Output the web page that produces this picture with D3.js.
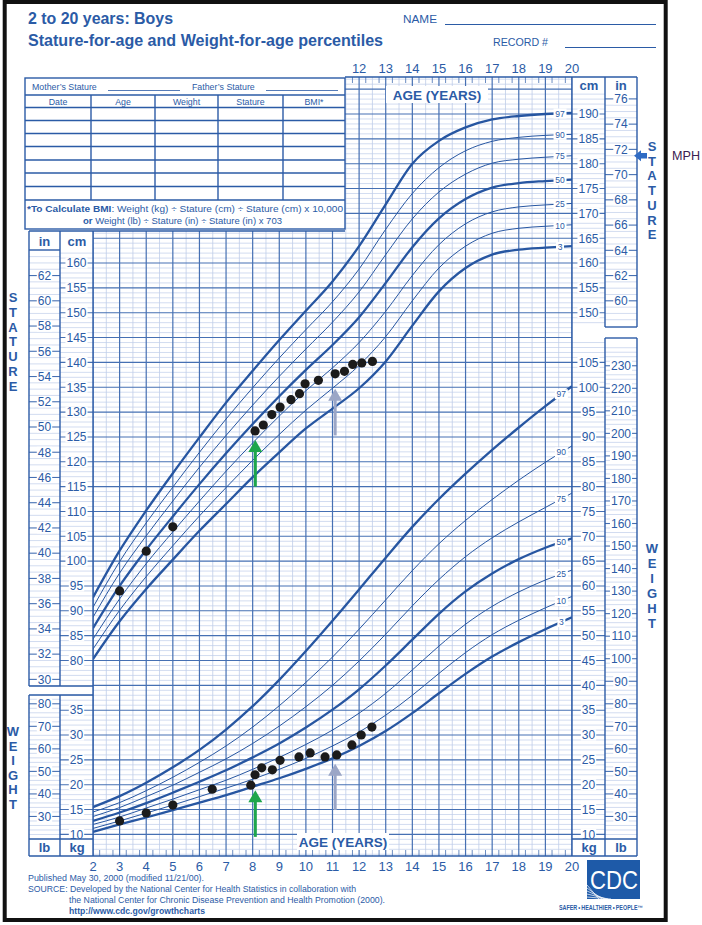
<!DOCTYPE html>
<html>
<head>
<meta charset="utf-8">
<script src="https://cdn.jsdelivr.net/npm/d3@7"></script>
<style>
  body { margin: 0; background: #fff; }
  svg { display: block; }
  text { font-family: "Liberation Sans", Arial, Helvetica, sans-serif; }
</style>
</head>
<body>
<div id="chart"></div>
<script>
// ---- data ----
const ages = [2, 3, 4, 5, 6, 7, 8, 9, 10, 11, 12, 13, 14, 15, 16, 17, 18, 19, 20];

// stature-for-age percentiles (cm)
const statureP3  = [80.3, 87.9, 94.4, 100.3, 106.1, 111.5, 116.9, 121.9, 126.7, 130.7, 134.8, 140.2, 147.4, 154.3, 159.0, 161.7, 162.7, 163.1, 163.4];
const statureP10 = [82.3, 90.1, 96.9, 103.1, 109.1, 114.8, 120.3, 125.5, 130.4, 134.8, 139.4, 145.2, 152.4, 159.0, 163.4, 166.0, 167.0, 167.4, 167.7];
const statureP25 = [84.3, 92.4, 99.5, 105.9, 112.1, 118.1, 123.8, 129.2, 134.3, 138.9, 144.0, 150.3, 157.5, 163.7, 167.9, 170.3, 171.3, 171.7, 172.0];
const statureP50 = [86.5, 95.0, 102.3, 109.0, 115.5, 121.7, 127.6, 133.2, 138.5, 143.5, 149.1, 156.0, 163.2, 169.0, 172.9, 175.2, 176.1, 176.5, 176.8];
const statureP75 = [88.7, 97.6, 105.1, 112.1, 118.9, 125.3, 131.4, 137.2, 142.7, 148.1, 154.2, 161.7, 168.9, 174.3, 177.9, 180.1, 180.9, 181.3, 181.6];
const statureP90 = [90.7, 99.9, 107.7, 114.9, 121.9, 128.6, 134.9, 140.9, 146.6, 152.2, 158.8, 166.8, 174.0, 179.2, 182.6, 184.5, 185.3, 185.7, 185.9];
const statureP97 = [92.7, 102.1, 110.2, 117.7, 124.9, 131.9, 138.3, 144.5, 150.4, 156.3, 163.4, 171.8, 180.0, 184.6, 187.3, 188.9, 189.6, 190.0, 190.2];

// weight-for-age percentiles (kg)
const weightP3  = [10.5, 12.0, 13.4, 14.9, 16.4, 17.9, 19.6, 21.3, 23.2, 25.3, 27.8, 30.8, 34.4, 38.4, 42.3, 45.8, 48.7, 51.3, 53.7];
const weightP10 = [11.2, 12.7, 14.3, 15.9, 17.6, 19.3, 21.1, 23.1, 25.3, 27.8, 30.6, 34.0, 38.0, 42.4, 46.6, 50.2, 53.1, 55.6, 57.9];
const weightP25 = [12.0, 13.5, 15.3, 17.1, 19.0, 20.9, 23.1, 25.5, 28.1, 31.0, 34.4, 38.4, 43.1, 47.9, 52.3, 55.9, 58.8, 61.2, 63.2];
const weightP50 = [12.7, 14.4, 16.3, 18.4, 20.6, 22.9, 25.5, 28.3, 31.5, 35.1, 39.2, 44.0, 49.2, 54.4, 58.9, 62.5, 65.4, 67.7, 69.6];
const weightP75 = [13.6, 15.4, 17.6, 19.9, 22.5, 25.2, 28.3, 31.8, 35.7, 40.0, 44.9, 50.3, 56.0, 61.3, 65.9, 69.7, 72.9, 75.8, 78.7];
const weightP90 = [14.5, 16.4, 18.8, 21.5, 24.5, 27.8, 31.6, 35.9, 40.6, 45.7, 51.3, 57.2, 63.1, 68.5, 73.2, 77.4, 81.3, 84.9, 88.2];
const weightP97 = [15.5, 17.7, 20.4, 23.5, 27.0, 31.1, 35.8, 41.1, 46.9, 53.0, 59.3, 65.7, 71.9, 77.5, 82.6, 87.4, 91.9, 96.2, 100.2];

const percentileNames = ["3", "10", "25", "50", "75", "90", "97"];

// plotted measurements
const statureVisitAge = [3.0, 4.0, 5.0, 8.09, 8.40, 8.72, 9.03, 9.44, 9.76, 9.97, 10.47, 11.10, 11.45, 11.76, 12.10, 12.50];
const statureVisitCm  = [94.0, 102.0, 106.9, 126.2, 127.4, 129.5, 131.0, 132.5, 133.7, 135.7, 136.4, 137.7, 138.2, 139.6, 139.9, 140.2];
const weightVisitAge  = [3.0, 4.0, 5.0, 6.48, 7.93, 8.09, 8.34, 8.74, 9.03, 9.74, 10.16, 10.72, 11.16, 11.73, 12.08, 12.48];
const weightVisitKg   = [12.7, 14.3, 15.9, 19.1, 19.9, 22.0, 23.4, 23.0, 24.9, 25.6, 26.4, 25.6, 26.0, 28.0, 30.0, 31.6];

// arrows: green at start, grey at later visit
const arrowAge           = [8.1, 11.1];
const arrowColor         = ["#1ea64c", "#9ba6c6"];
const arrowStatureTip    = [124.4, 134.7];
const arrowStatureTail   = [115.0, 125.3];
const arrowWeightTip     = [18.9, 24.2];
const arrowWeightTail    = [9.5, 14.9];
const midParentalInches  = 71.5;

// axis tick labels
const ageTicksBottom = [2, 3, 4, 5, 6, 7, 8, 9, 10, 11, 12, 13, 14, 15, 16, 17, 18, 19, 20];
const ageTicksTop    = [12, 13, 14, 15, 16, 17, 18, 19, 20];
const cmTicksLeft    = [80, 85, 90, 95, 100, 105, 110, 115, 120, 125, 130, 135, 140, 145, 150, 155, 160];
const inTicksLeft    = [30, 32, 34, 36, 38, 40, 42, 44, 46, 48, 50, 52, 54, 56, 58, 60, 62];
const cmTicksRight   = [150, 155, 160, 165, 170, 175, 180, 185, 190];
const inTicksRight   = [60, 62, 64, 66, 68, 70, 72, 74, 76];
const kgTicksLeft    = [10, 15, 20, 25, 30, 35];
const lbTicksLeft    = [30, 40, 50, 60, 70, 80];
const kgTicksRight   = [10, 15, 20, 25, 30, 35, 40, 45, 50, 55, 60, 65, 70, 75, 80, 85, 90, 95, 100, 105];
const lbTicksRight   = [30, 40, 50, 60, 70, 80, 90, 100, 110, 120, 130, 140, 150, 160, 170, 180, 190, 200, 210, 220, 230];
const tableColumns   = ["Date", "Age", "Weight", "Stature", "BMI*"];

// ---- drawing ----
const BLUE = "#2b5ba6", MAJOR = "#4670b3", MINOR = "#bfcde9", CURVE = "#2756a1";

const svg = d3.select("#chart").append("svg")
    .attr("width", 702)
    .attr("height", 925);

svg.append("rect").attr("width", 702).attr("height", 925).attr("fill", "#fff");

// scales: cm and kg grids share one spacing (kg line = cm line - 35)
const x   = d3.scaleLinear().domain([2, 20]).range([93, 572]);
const yCm = d3.scaleLinear().domain([80, 190]).range([660.5, 114]);
const yKg = d3.scaleLinear().domain([10, 120]).range([yCm(45), yCm(155)]);
const yIn = d3.scaleLinear().domain([30, 76]).range([yCm(30 * 2.54), yCm(76 * 2.54)]);
const yLb = d3.scaleLinear().domain([20, 240]).range([yKg(20 * 0.45359), yKg(240 * 0.45359)]);

// clip for the grid (table sits over the upper left)
const defs = svg.append("defs");
const clip = defs.append("clipPath").attr("id", "gridClip");
clip.append("rect").attr("x", 93).attr("y", 231).attr("width", 479).attr("height", 625);
clip.append("rect").attr("x", 345).attr("y", 77).attr("width", 227).attr("height", 160);

const grid = svg.append("g").attr("clip-path", "url(#gridClip)");

const levels = d3.range(40, 199);
const minorLv = levels.filter(v => v % 5 !== 0), majorLv = levels.filter(v => v % 5 === 0);
grid.selectAll(".hmin").data(minorLv).join("line")
    .attr("x1", 93).attr("x2", 572)
    .attr("y1", d => yCm(d)).attr("y2", d => yCm(d))
    .attr("stroke", MINOR).attr("stroke-width", 0.7);

const halfYears = d3.range(2.5, 20, 1);
grid.selectAll(".vmin").data(halfYears).join("line")
    .attr("x1", d => x(d)).attr("x2", d => x(d))
    .attr("y1", 77).attr("y2", 856)
    .attr("stroke", MINOR).attr("stroke-width", 0.8);

grid.selectAll(".hmaj").data(majorLv).join("line")
    .attr("x1", 93).attr("x2", 572)
    .attr("y1", d => yCm(d)).attr("y2", d => yCm(d))
    .attr("stroke", MAJOR).attr("stroke-width", 1.1);

grid.selectAll(".vmaj").data(ageTicksBottom).join("line")
    .attr("x1", d => x(d)).attr("x2", d => x(d))
    .attr("y1", 77).attr("y2", 856)
    .attr("stroke", MAJOR).attr("stroke-width", 1.2);

// quarter-year ticks along top and bottom edge
const quarters = d3.range(2.25, 20, 0.5);
grid.selectAll(".qt").data(quarters).join("line")
    .attr("x1", d => x(d)).attr("x2", d => x(d))
    .attr("y1", 77).attr("y2", 83)
    .attr("stroke", MAJOR).attr("stroke-width", 0.8);
grid.selectAll(".qb").data(quarters).join("line")
    .attr("x1", d => x(d)).attr("x2", d => x(d))
    .attr("y1", 850).attr("y2", 856)
    .attr("stroke", MAJOR).attr("stroke-width", 0.8);

// percentile curves
const line = d3.line().x(d => x(d[0])).y(d => d[1]).curve(d3.curveMonotoneX);
const statureSets = [statureP3, statureP10, statureP25, statureP50, statureP75, statureP90, statureP97];
const weightSets  = [weightP3, weightP10, weightP25, weightP50, weightP75, weightP90, weightP97];
const thick = p => p === "3" || p === "50" || p === "97";

const curves = svg.append("g").attr("clip-path", "url(#gridClip)");
statureSets.forEach((vals, i) => {
    curves.append("path")
        .attr("d", line(ages.map((a, j) => [a, yCm(vals[j])])))
        .attr("fill", "none").attr("stroke", CURVE)
        .attr("stroke-width", thick(percentileNames[i]) ? 2.3 : 1.0);
});
weightSets.forEach((vals, i) => {
    curves.append("path")
        .attr("d", line(ages.map((a, j) => [a, yKg(vals[j])])))
        .attr("fill", "none").attr("stroke", CURVE)
        .attr("stroke-width", thick(percentileNames[i]) ? 2.3 : 1.0);
});

// percentile labels near age 20
function pctLabel(px, py, txt) {
    const w = txt.length * 5 + 3;
    svg.append("rect").attr("x", px - w / 2).attr("y", py - 5).attr("width", w).attr("height", 10).attr("fill", "#fff");
    svg.append("text").attr("x", px).attr("y", py + 3).attr("text-anchor", "middle")
        .attr("font-size", 8.5).attr("fill", BLUE).text(txt);
}
statureSets.forEach((vals, i) => pctLabel(x(19.55), yCm((vals[17] + vals[18]) / 2), percentileNames[i]));
weightSets.forEach((vals, i) => pctLabel(x(19.6), yKg(vals[18] - (vals[18] - vals[17]) * 0.4), percentileNames[i]));

// ---- side columns ----
function columnLines(x1, x2, y1, y2, vals, scale, color, width) {
    svg.append("g").selectAll("line")
        .data(vals.filter(v => scale(v) >= y1 && scale(v) <= y2)).join("line")
        .attr("x1", x1).attr("x2", x2)
        .attr("y1", d => scale(d)).attr("y2", d => scale(d))
        .attr("stroke", color).attr("stroke-width", width);
}
function columnLabels(cx, vals, scale) {
    const g = svg.append("g");
    vals.forEach(v => {
        const w = String(v).length * 6.7 + 2;
        g.append("rect").attr("x", cx - w / 2).attr("y", scale(v) - 5.5).attr("width", w).attr("height", 11).attr("fill", "#fff");
        g.append("text").attr("x", cx).attr("y", scale(v) + 4.3).attr("text-anchor", "middle")
            .attr("font-size", 12).attr("fill", BLUE).text(v);
    });
}

// left stature box
columnLines(60, 93, 250, 686, minorLv, yCm, MINOR, 0.7);
columnLines(29, 60, 250, 686, d3.range(29, 64, 0.5).filter(v => v % 2 !== 0), yIn, MINOR, 0.7);
columnLines(60, 93, 250, 686, cmTicksLeft, yCm, MAJOR, 1.1);
columnLines(29, 60, 250, 686, inTicksLeft, yIn, MAJOR, 1.1);
columnLabels(76.5, cmTicksLeft, yCm);
columnLabels(44.5, inTicksLeft, yIn);

// left weight box
columnLines(60, 93, 695, 839, minorLv, yCm, MINOR, 0.7);
columnLines(29, 60, 695, 839, d3.range(22, 86, 2).filter(v => v % 10 !== 0), yLb, MINOR, 0.7);
columnLines(60, 93, 695, 839, kgTicksLeft, yKg, MAJOR, 1.1);
columnLines(29, 60, 695, 839, lbTicksLeft, yLb, MAJOR, 1.1);
columnLabels(76.5, kgTicksLeft, yKg);
columnLabels(44.5, lbTicksLeft, yLb);

// right stature box
columnLines(572, 605, 93, 327, minorLv, yCm, MINOR, 0.7);
columnLines(605, 637, 93, 327, d3.range(58, 77, 0.5).filter(v => v % 2 !== 0), yIn, MINOR, 0.7);
columnLines(572, 605, 93, 327, cmTicksRight, yCm, MAJOR, 1.1);
columnLines(605, 637, 93, 327, inTicksRight, yIn, MAJOR, 1.1);
columnLabels(588.5, cmTicksRight, yCm);
columnLabels(621, inTicksRight, yIn);

// right weight box
columnLines(572, 605, 338, 839, minorLv, yCm, MINOR, 0.7);
columnLines(605, 637, 338, 839, d3.range(22, 240, 2).filter(v => v % 10 !== 0), yLb, MINOR, 0.7);
columnLines(572, 605, 338, 839, kgTicksRight, yKg, MAJOR, 1.1);
columnLines(605, 637, 338, 839, lbTicksRight, yLb, MAJOR, 1.1);
columnLabels(588.5, kgTicksRight, yKg);
columnLabels(621, lbTicksRight, yLb);

// frames
const frame = svg.append("g").attr("stroke", BLUE).attr("stroke-width", 1.4).attr("fill", "none");
[
    [29, 231, 345, 231], [29, 231, 29, 686], [29, 686, 93, 686], [60, 231, 60, 686], [29, 250, 60, 250],
    [93, 231, 93, 856], [29, 695, 93, 695], [29, 695, 29, 856], [60, 695, 60, 856], [29, 839, 93, 839],
    [29, 856, 637, 856], [345, 77, 637, 77], [572, 77, 572, 856], [605, 77, 605, 327], [637, 77, 637, 327],
    [605, 327, 637, 327], [605, 338, 637, 338], [605, 338, 605, 856], [637, 338, 637, 856], [572, 839, 637, 839]
].forEach(([a, b, c, d]) => frame.append("line").attr("x1", a).attr("y1", b).attr("x2", c).attr("y2", d));

function boldText(tx, ty, t, size, anchor) {
    return svg.append("text").attr("x", tx).attr("y", ty).attr("text-anchor", anchor || "middle")
        .attr("font-size", size).attr("font-weight", "bold").attr("fill", BLUE).text(t);
}
boldText(44.5, 246, "in", 13);
boldText(77, 246, "cm", 13);
boldText(44.5, 852, "lb", 13);
boldText(77, 852, "kg", 13);
boldText(589, 90, "cm", 13);
boldText(621, 90, "in", 13);
boldText(589, 852, "kg", 13);
boldText(621, 852, "lb", 13);

// age labels
svg.append("g").selectAll("text").data(ageTicksBottom).join("text")
    .attr("x", d => x(d)).attr("y", 871).attr("text-anchor", "middle")
    .attr("font-size", 13).attr("fill", BLUE).text(d => d);
svg.append("g").selectAll("text").data(ageTicksTop).join("text")
    .attr("x", d => x(d)).attr("y", 73).attr("text-anchor", "middle")
    .attr("font-size", 13).attr("fill", BLUE).text(d => d);

svg.append("rect").attr("x", 386).attr("y", 86).attr("width", 102).attr("height", 17).attr("fill", "#fff");
boldText(437, 100, "AGE (YEARS)", 13.5);
svg.append("rect").attr("x", 297).attr("y", 833).attr("width", 92).attr("height", 17).attr("fill", "#fff");
boldText(343, 847, "AGE (YEARS)", 13.5);

// vertical words
function verticalWord(cx, y0, step, word) {
    word.split("").forEach((ch, i) => boldText(cx, y0 + i * step, ch, 13));
}
verticalWord(13, 302, 14.8, "STATURE");
verticalWord(13, 736, 14.6, "WEIGHT");
verticalWord(652, 151, 14.7, "STATURE");
verticalWord(652, 553, 15, "WEIGHT");

// measurements
svg.append("g").selectAll("circle").data(statureVisitAge).join("circle")
    .attr("cx", d => x(d)).attr("cy", (d, i) => yCm(statureVisitCm[i])).attr("r", 4.6).attr("fill", "#1b1b1b");
svg.append("g").selectAll("circle").data(weightVisitAge).join("circle")
    .attr("cx", d => x(d)).attr("cy", (d, i) => yKg(weightVisitKg[i])).attr("r", 4.6).attr("fill", "#1b1b1b");

function upArrow(ax, tipY, tailY, color) {
    svg.append("line").attr("x1", ax).attr("x2", ax).attr("y1", tailY).attr("y2", tipY + 10)
        .attr("stroke", color).attr("stroke-width", 3);
    svg.append("path").attr("d", `M${ax},${tipY} L${ax - 7},${tipY + 12} L${ax + 7},${tipY + 12} Z`).attr("fill", color);
}
arrowAge.forEach((a, i) => {
    upArrow(x(a), yCm(arrowStatureTip[i]), yCm(arrowStatureTail[i]), arrowColor[i]);
    upArrow(x(a), yKg(arrowWeightTip[i]), yKg(arrowWeightTail[i]), arrowColor[i]);
});

// mid-parental height arrow
const my = yIn(midParentalInches);
svg.append("path").attr("d", `M634,${my} L641,${my - 5.5} L641,${my - 2.8} L647,${my - 2.8} L647,${my + 2.8} L641,${my + 2.8} L641,${my + 5.5} Z`)
    .attr("fill", "#2f6bc4");
svg.append("text").attr("x", 672).attr("y", my + 4.5).attr("font-size", 12)
    .attr("fill", "#3a2150").attr("font-family", "DejaVu Sans").attr("textLength", 28)
    .attr("lengthAdjust", "spacingAndGlyphs").text("MPH");

// ---- data table ----
const tbl = svg.append("g");
tbl.append("rect").attr("x", 25).attr("y", 78).attr("width", 320).attr("height", 151)
    .attr("fill", "#fff").attr("stroke", BLUE).attr("stroke-width", 1.4);
const rowLines = [95, 107.5, 120.5, 133.5, 146.5, 160, 173, 186.5, 200];
const colEdges = [25, 91, 155, 218, 283, 345];
rowLines.forEach(yy => tbl.append("line").attr("x1", 25).attr("x2", 345).attr("y1", yy).attr("y2", yy)
    .attr("stroke", BLUE).attr("stroke-width", 1.4));
colEdges.slice(1, -1).forEach(xx => tbl.append("line").attr("x1", xx).attr("x2", xx).attr("y1", 95).attr("y2", 200)
    .attr("stroke", BLUE).attr("stroke-width", 1.4));
tableColumns.forEach((c, i) => tbl.append("text")
    .attr("x", (colEdges[i] + colEdges[i + 1]) / 2).attr("y", 104.5).attr("text-anchor", "middle")
    .attr("font-size", 8.8).attr("fill", BLUE).text(c));
tbl.append("text").attr("x", 32).attr("y", 90).attr("font-size", 8.8).attr("fill", BLUE).text("Mother\u2019s Stature");
tbl.append("line").attr("x1", 108).attr("x2", 180).attr("y1", 90.5).attr("y2", 90.5).attr("stroke", BLUE).attr("stroke-width", 0.8);
tbl.append("text").attr("x", 192).attr("y", 90).attr("font-size", 8.8).attr("fill", BLUE).text("Father\u2019s Stature");
tbl.append("line").attr("x1", 266).attr("x2", 338).attr("y1", 90.5).attr("y2", 90.5).attr("stroke", BLUE).attr("stroke-width", 0.8);

const note1 = tbl.append("text").attr("x", 27).attr("y", 212).attr("font-size", 8.8).attr("fill", BLUE)
    .attr("textLength", 316).attr("lengthAdjust", "spacingAndGlyphs");
note1.append("tspan").attr("font-weight", "bold").text("*To Calculate BMI");
note1.append("tspan").text(": Weight (kg) \u00f7 Stature (cm) \u00f7 Stature (cm) x 10,000");
const note2 = tbl.append("text").attr("x", 83).attr("y", 224).attr("font-size", 8.8).attr("fill", BLUE)
    .attr("textLength", 199).attr("lengthAdjust", "spacingAndGlyphs");
note2.append("tspan").attr("font-weight", "bold").text("or");
note2.append("tspan").text(" Weight (lb) \u00f7 Stature (in) \u00f7 Stature (in) x 703");

// ---- header ----
boldText(28, 24, "2 to 20 years: Boys", 16, "start").attr("textLength", 145).attr("lengthAdjust", "spacingAndGlyphs");
boldText(28, 46, "Stature-for-age and Weight-for-age percentiles", 16, "start").attr("textLength", 355).attr("lengthAdjust", "spacingAndGlyphs");
svg.append("text").attr("x", 403).attr("y", 23).attr("font-size", 11).attr("fill", BLUE)
    .attr("textLength", 34).attr("lengthAdjust", "spacingAndGlyphs").text("NAME");
svg.append("line").attr("x1", 445).attr("x2", 656).attr("y1", 24.5).attr("y2", 24.5).attr("stroke", BLUE).attr("stroke-width", 1);
svg.append("text").attr("x", 493).attr("y", 46).attr("font-size", 11).attr("fill", BLUE)
    .attr("textLength", 55).attr("lengthAdjust", "spacingAndGlyphs").text("RECORD #");
svg.append("line").attr("x1", 565).attr("x2", 656).attr("y1", 47.5).attr("y2", 47.5).attr("stroke", BLUE).attr("stroke-width", 1);

// ---- footer ----
const foot = [
    ["Published May 30, 2000 (modified 11/21/00).", 28, 881, false, 176],
    ["SOURCE: Developed by the National Center for Health Statistics in collaboration with", 28, 892, false, 328],
    ["the National Center for Chronic Disease Prevention and Health Promotion (2000).", 69, 903, false, 316],
    ["http://www.cdc.gov/growthcharts", 69, 914, true, 136]
];
foot.forEach(([t, fx, fy, b, len]) => svg.append("text").attr("x", fx).attr("y", fy)
    .attr("font-size", 8.3).attr("font-weight", b ? "bold" : "normal").attr("fill", BLUE)
    .attr("textLength", len).attr("lengthAdjust", "spacingAndGlyphs").text(t));

// CDC logo
svg.append("rect").attr("x", 587).attr("y", 860).attr("width", 53).attr("height", 39).attr("fill", "#1e5aa8");
[0, 1, 2, 3, 4].forEach(k => svg.append("line")
    .attr("x1", 587).attr("y1", 885 + k * 3).attr("x2", 599 + k * 3).attr("y2", 899)
    .attr("stroke", "#fff").attr("stroke-width", 0.7));
svg.append("text").attr("x", 614).attr("y", 889).attr("text-anchor", "middle")
    .attr("font-family", "Liberation Serif, serif").attr("font-size", 26).attr("fill", "#fff")
    .attr("textLength", 48).attr("lengthAdjust", "spacingAndGlyphs").text("CDC");
svg.append("text").attr("x", 643).attr("y", 910).attr("text-anchor", "end")
    .attr("font-size", 6.6).attr("font-weight", "bold").attr("fill", BLUE)
    .attr("textLength", 84).attr("lengthAdjust", "spacingAndGlyphs").text("SAFER\u2009\u2022\u2009HEALTHIER\u2009\u2022\u2009PEOPLE\u2122");

// page border
svg.append("rect").attr("x", 4.7).attr("y", 2).attr("width", 661).attr("height", 918)
    .attr("fill", "none").attr("stroke", "#111").attr("stroke-width", 4);
</script>
</body>
</html>
